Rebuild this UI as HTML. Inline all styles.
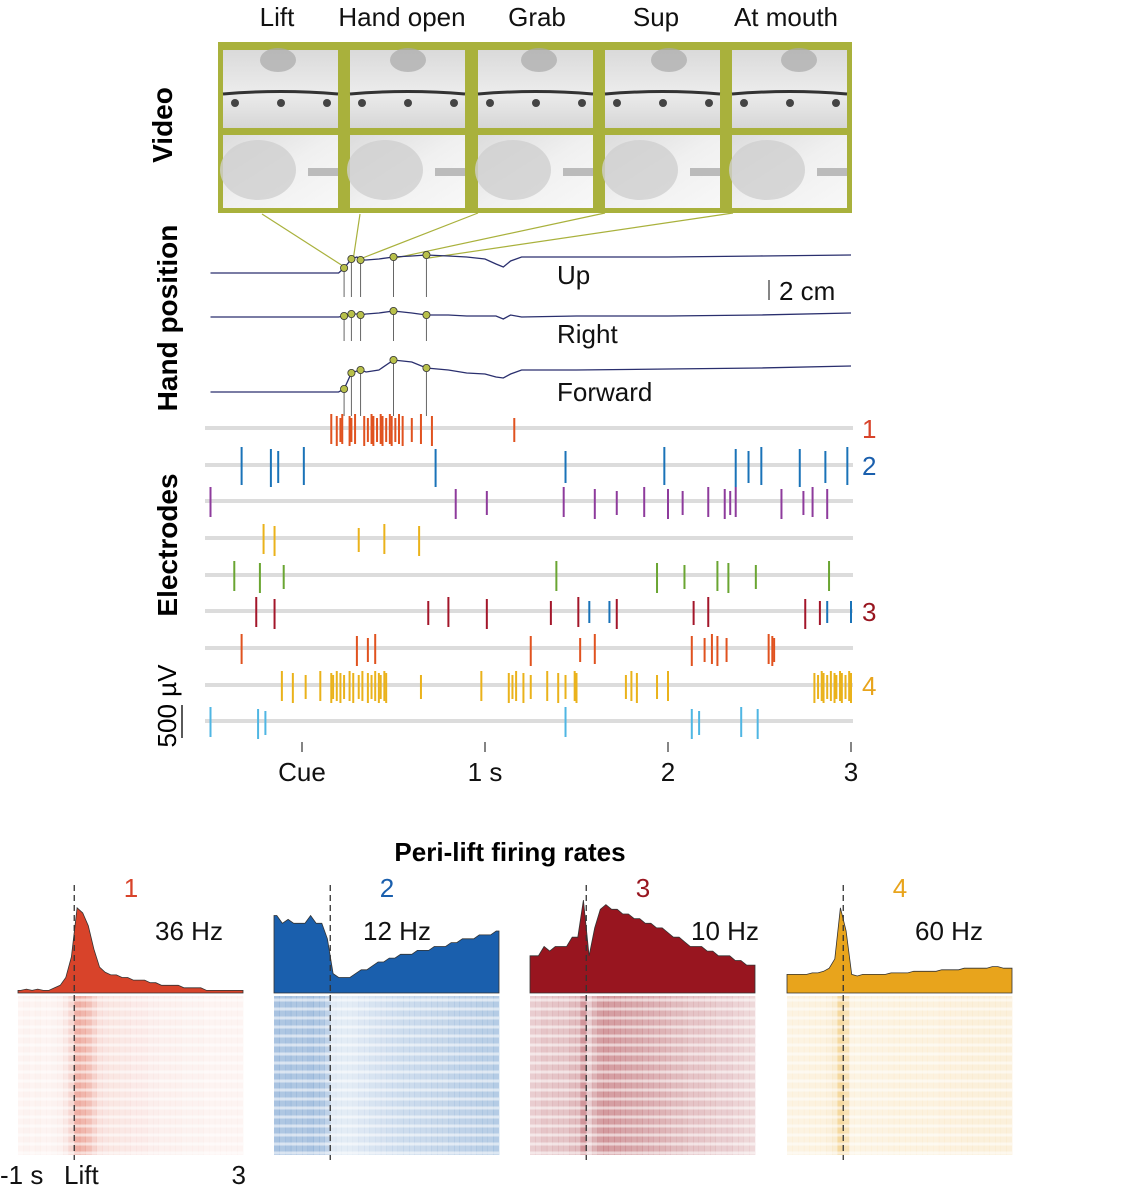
<!DOCTYPE html>
<html><head><meta charset="utf-8">
<style>
html,body{margin:0;padding:0;background:#fff;}
svg{display:block;font-family:"Liberation Sans",sans-serif;}
</style></head>
<body>
<svg id="fig" width="1127" height="1200" viewBox="0 0 1127 1200" xmlns="http://www.w3.org/2000/svg">
<defs>
<linearGradient id="imgTop" x1="0" y1="0" x2="0" y2="1">
<stop offset="0" stop-color="#dadada"/><stop offset="0.55" stop-color="#ececec"/><stop offset="1" stop-color="#d6d6d6"/></linearGradient>
<linearGradient id="imgBot" x1="0" y1="0" x2="1" y2="1">
<stop offset="0" stop-color="#dcdcdc"/><stop offset="0.5" stop-color="#f0f0f0"/><stop offset="1" stop-color="#f8f8f8"/></linearGradient>
</defs>
<g id="video"></g>
<g id="hand"></g>
<g id="elec"></g>
<g id="peri"></g>
<text x="172" y="125" transform="rotate(-90 172 125)" text-anchor="middle" font-size="28" font-weight="bold">Video</text>
<text x="177" y="318" transform="rotate(-90 177 318)" text-anchor="middle" font-size="28" font-weight="bold">Hand position</text>
<text x="177" y="545" transform="rotate(-90 177 545)" text-anchor="middle" font-size="28" font-weight="bold">Electrodes</text>
<text x="176" y="706" transform="rotate(-90 176 706)" text-anchor="middle" font-size="26">500 µV</text>
<line x1="182" y1="705" x2="182" y2="738" stroke="#222" stroke-width="1.5"/>
<text x="510" y="861" text-anchor="middle" font-size="26" font-weight="bold">Peri-lift firing rates</text>
</svg>
<script>
const NS='http://www.w3.org/2000/svg';
function mk(tag,attrs,parent,txt){const e=document.createElementNS(NS,tag);for(const k in attrs)e.setAttribute(k,attrs[k]);if(txt!==undefined)e.textContent=txt;parent.appendChild(e);return e;}

// ---------- DATA ----------
const videoLabels=['Lift','Hand open','Grab','Sup','At mouth'];
const eventTimes=[0.23,0.27,0.32,0.50,0.68];
const handT=[-0.5,0.2,0.23,0.27,0.3,0.32,0.35,0.42,0.5,0.6,0.68,0.8,0.9,1.0,1.06,1.1,1.14,1.2,1.5,2.0,2.5,3.0];
const handUp=[0,0,0.5,1.4,1.6,1.3,1.3,1.4,1.6,1.7,1.8,1.7,1.6,1.4,0.9,0.6,1.2,1.6,1.6,1.6,1.7,1.8];
const handRight=[0,0,0.1,0.3,0.3,0.2,0.3,0.4,0.6,0.4,0.2,0.2,0.1,0.1,0.1,-0.2,0.2,0,0.1,0.1,0.2,0.4];
const handForward=[0,0,0.3,1.9,2.1,2.2,2.0,2.2,3.2,3.0,2.4,2.2,1.9,1.8,1.5,1.4,1.8,2.2,2.2,2.3,2.4,2.6];
const handNames=['Up','Right','Forward'];
const timeTicks=[0,1,2,3];
const timeTickLabels=['Cue','1 s','2','3'];
const spikes=[
 [0.16,0.19,0.21,0.22,0.26,0.27,0.29,0.34,0.36,0.38,0.39,0.41,0.43,0.44,0.46,0.48,0.49,0.51,0.53,0.55,0.60,0.65,0.71,1.16],
 [-0.33,-0.17,-0.13,0.01,0.73,1.44,1.98,2.37,2.44,2.51,2.72,2.86,2.98],
 [-0.50,0.84,1.01,1.43,1.60,1.72,1.87,2.0,2.08,2.22,2.31,2.34,2.37,2.62,2.74,2.79,2.87],
 [-0.21,-0.15,0.31,0.45,0.64],
 [-0.37,-0.23,-0.10,1.39,1.94,2.09,2.27,2.33,2.48,2.88],
 [-0.25,-0.15,0.69,0.80,1.01,1.36,1.51,1.72,2.14,2.22,2.75,2.83],
 [-0.33,0.30,0.36,0.40,1.25,1.52,1.60,2.13,2.20,2.24,2.27,2.32,2.55,2.57,2.58],
 [-0.11,-0.05,0.02,0.10,0.16,0.17,0.19,0.21,0.23,0.26,0.28,0.31,0.33,0.36,0.38,0.40,0.42,0.43,0.45,0.46,0.65,0.98,1.13,1.15,1.17,1.21,1.25,1.34,1.40,1.44,1.49,1.50,1.77,1.80,1.83,1.94,2.0,2.80,2.82,2.84,2.85,2.87,2.89,2.91,2.92,2.94,2.95,2.97,2.99,3.0],
 [-0.50,-0.24,-0.20,1.44,2.13,2.17,2.40,2.49]
];
const extraSpikesRow6=[1.57,1.68,2.87,3.0];
const rowColors=['#e0521f','#1a73b8','#8e3b9c','#eab21b','#6aa532','#a3162a','#e0521f','#eab21b','#4fb6e3'];
const unitLabels=['1','2','3','4'];
const unitRows=[0,1,5,7];
const periColors=['#d8432a','#1a5fad','#98151f','#e8a41c'];
const periMax=[36,12,10,60];
const periLabels=['36 Hz','12 Hz','10 Hz','60 Hz'];
const psth1=[1,1.5,1,1.5,1,1,2,3,6,14,33,31,26,17,10,8,7,7,6,6,5,5,5,4,4,3,3,3,3,2,2,2,2,1,1,1,1,1,1,1];
const psth2=[10,9,9.5,9,9,9,10,9,9,7,2.5,2,2,2,2.5,3,3,3.5,4,4,4.5,4.5,5,5,5,5.5,5.5,5.5,6,6,6,6.5,6.5,7,7,7,7.5,7.5,7.5,8];
const psth3=[4,4,5,4.5,5,5,5,6,6,10,4,7,9,9.5,9,9,8.5,8.5,8,8,7.5,7.5,7,7,6.5,6,6,5.5,5,5,5,4.5,4.5,4,4,4,3.5,3.5,3,3];
const psth4=[12,12,12,12,13,13,14,16,22,55,40,12,11,12,12,12,12,12,13,13,13,13,14,14,14,14,14,15,15,15,15,16,16,16,16,16,17,17,16,16];
const psths=[psth1,psth2,psth3,psth4];

// ---------- AXES ----------
const tx=t=>302+t*183;
const CM=10;

// ---------- VIDEO ----------
const vg=document.getElementById('video');
const colX=[223,350,478,605,732];
const labX=[277,402,537,656,786];
mk('rect',{x:218,y:42,width:634,height:171,fill:'#a9b13c',},vg);
videoLabels.forEach((l,i)=>{
  const t=mk('text',{x:labX[i],y:26,'text-anchor':'middle','font-size':26,fill:'#111'},vg,l);
  
  
  const x=colX[i],w=115;
  const a=mk('rect',{x:x,y:50,width:w,height:78,fill:'url(#imgTop)'},vg);
  
  
  mk('path',{d:`M${x} ${94} Q${x+w/2} ${89} ${x+w} ${94}`,stroke:'#333',"stroke-width":3,fill:'none'},vg);
  [12,58,104].forEach(dx=>mk('circle',{cx:x+dx,cy:103,r:4,fill:'#444'},vg));
  mk('ellipse',{cx:x+55+i*3,cy:60,rx:18,ry:12,fill:'#aaa',opacity:0.7},vg);
  const b=mk('rect',{x:x,y:135,width:w,height:73,fill:'url(#imgBot)'},vg);
  
  
  mk('ellipse',{cx:x+35,cy:170,rx:38,ry:30,fill:'#cfcfcf',opacity:0.8},vg);
  mk('rect',{x:x+85,y:168,width:30,height:8,fill:'#bbb'},vg);
});
const arrowStart=[[262,214],[360,214],[478,213],[605,213],[733,213]];
eventTimes.forEach((t,i)=>{
  const ex=tx(t), ey=258-(i===0?-10:0);
  const l=mk('line',{x1:arrowStart[i][0],y1:arrowStart[i][1],x2:ex+2,y2:ey,stroke:'#a9b13c','stroke-width':1.2},vg);
  
  
});

// ---------- HAND POSITION ----------
const hg=document.getElementById('hand');
const bases=[273,317,392];
const series=[handUp,handRight,handForward];
function interp(arr,t){for(let i=0;i<handT.length-1;i++){if(t>=handT[i]&&t<=handT[i+1]){const f=(t-handT[i])/(handT[i+1]-handT[i]);return arr[i]+f*(arr[i+1]-arr[i]);}}return arr[arr.length-1];}
series.forEach((s,k)=>{
  let d='';
  handT.forEach((t,i)=>{d+=(i?'L':'M')+tx(t).toFixed(1)+' '+(bases[k]-s[i]*CM).toFixed(1);});
  const p=mk('path',{d:d,stroke:'#2a2f6e','stroke-width':1.3,fill:'none'},hg);
  
  
  eventTimes.forEach(t=>{
    const y=bases[k]-interp(s,t)*CM;
    mk('line',{x1:tx(t),y1:y,x2:tx(t),y2:bases[k]+24,stroke:'#666','stroke-width':1},hg);
    const c=mk('circle',{cx:tx(t),cy:y,r:3.6,fill:'#b8c04a',stroke:'#333','stroke-width':0.8},hg);
    
    
  });
  const lt=mk('text',{x:557,y:[284,343,401][k],'font-size':26,fill:'#111'},hg,handNames[k]);
  
  
});
mk('line',{x1:769,y1:280,x2:769,y2:300,stroke:'#333','stroke-width':1.2},hg);
const sc=mk('text',{x:779,y:300,'font-size':26,fill:'#111'},hg,'2 cm');



// ---------- ELECTRODES ----------
const eg=document.getElementById('elec');
const rowY=[428,465,501,538,575,611,648,685,721];
rowY.forEach((y,r)=>{
  const bl=mk('line',{x1:205,y1:y,x2:853,y2:y,stroke:'#dcdcdc','stroke-width':4},eg);
  
  
  const h=r===1?18:14;
  spikes[r].forEach((t,j)=>{
    const up=h-(j%3)*2, dn=h+((j+1)%3)*2;
    const s=mk('line',{x1:tx(t),y1:y-up,x2:tx(t),y2:y+dn,stroke:rowColors[r],'stroke-width':2},eg);
    
    
  });
});
extraSpikesRow6.forEach(t=>{
  const s=mk('line',{x1:tx(t),y1:rowY[5]-10,x2:tx(t),y2:rowY[5]+12,stroke:'#1a73b8','stroke-width':2},eg);
  
  
});
unitRows.forEach((r,i)=>{
  const t=mk('text',{x:862,y:rowY[r]+10,'font-size':26,fill:periColors[i]},eg,unitLabels[i]);
  
  
});
timeTicks.forEach((t,i)=>{
  mk('line',{x1:tx(t),y1:742,x2:tx(t),y2:752,stroke:'#333','stroke-width':1.2},eg);
  const lb=mk('text',{x:tx(t),y:781,'text-anchor':'middle','font-size':26,fill:'#111'},eg,timeTickLabels[i]);
  
  
});

// ---------- PERI-LIFT ----------
const pg=document.getElementById('peri');
const panelX=[18,274,530,787];
const hzX=[189,397,725,949];
const PW=225, base=993, PH=93, rTop=996, rBot=1155;
psths.forEach((ps,k)=>{
  const x0=panelX[k];
  const bx=i=>x0+(i+0.5)/ps.length*PW;
  const by=v=>base-v/periMax[k]*PH;
  let d=`M${x0} ${base} L${x0} ${by(ps[0]).toFixed(1)}`;
  ps.forEach((v,i)=>{d+=` L${bx(i).toFixed(1)} ${by(v).toFixed(1)}`;});
  d+=` L${x0+PW} ${by(ps[ps.length-1]).toFixed(1)} L${x0+PW} ${base} Z`;
  const p=mk('path',{d:d,fill:periColors[k],stroke:'#333','stroke-width':0.8},pg);
  
  
  const bw=PW/ps.length;
  ps.forEach((v,i)=>{
    const op=0.05+0.4*Math.min(1,v/periMax[k]);
    const r=mk('rect',{x:(x0+i*bw).toFixed(1),y:rTop,width:(bw+0.3).toFixed(1),height:rBot-rTop,fill:periColors[k],opacity:op.toFixed(2)},pg);
    
    
  });
  for(let yy=rTop+4;yy<rBot;yy+=9){mk('line',{x1:x0,y1:yy,x2:x0+PW,y2:yy,stroke:'#fff','stroke-width':3,opacity:0.55},pg);}
  const lx=x0+PW/4;
  const dl=mk('line',{x1:lx,y1:885,x2:lx,y2:1160,stroke:'#333','stroke-width':1.3,'stroke-dasharray':'6,4'},pg);
  
  
  const nl=mk('text',{x:x0+113,y:897,'text-anchor':'middle','font-size':26,fill:periColors[k]},pg,unitLabels[k]);
  
  
  const hz=mk('text',{x:hzX[k],y:940,'text-anchor':'middle','font-size':26,fill:'#111'},pg,periLabels[k]);
  
  
});
[['-1 s',0,'start'],['Lift',64,'start'],['3',246,'end']].forEach(a=>{
  const t=mk('text',{x:a[1],y:1184,'text-anchor':a[2],'font-size':26,fill:'#111'},pg,a[0]);
  
  
});
</script>
</body></html>
